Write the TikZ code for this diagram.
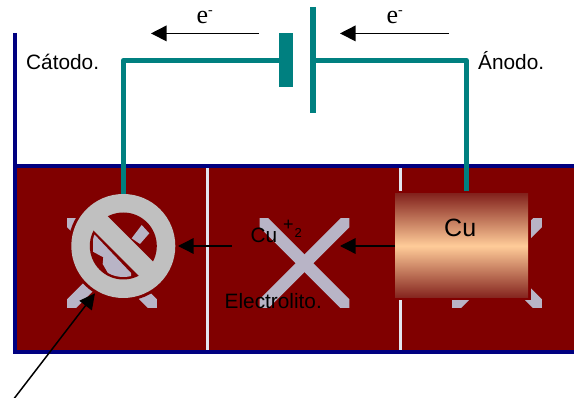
\documentclass[tikz,border=0pt]{standalone}
\usepackage{fontspec}
\setmainfont{Liberation Sans}
\newfontfamily\serifx{Liberation Serif}
\usetikzlibrary{arrows.meta}
\definecolor{tank}{RGB}{128,0,0}
\definecolor{wire}{RGB}{0,128,128}
\definecolor{navy}{RGB}{0,0,128}
\definecolor{crossc}{RGB}{184,180,198}
\definecolor{ban}{RGB}{192,192,192}
\definecolor{copper}{RGB}{255,204,153}
\definecolor{copperedge}{RGB}{132,36,30}
\definecolor{sep}{RGB}{225,230,240}
\tikzset{
 wireline/.style={draw=wire,line width=5pt},
 arr/.style={draw=black,line width=1.5pt,-{Triangle[length=15.5pt,width=15.5pt]}},
 arrs/.style={draw=black,line width=1.3pt,-{Triangle[length=15.5pt,width=15.5pt]}},
 lab/.style={font=\fontsize{20.8}{22}\selectfont,text=black,inner sep=0pt,anchor=base west},
 elec/.style={font=\fontsize{26}{28}\serifx,text=black,inner sep=0pt,anchor=base west},
}
\newcommand{\xmark}[2]{%
 \begin{scope}
 \clip (#1-44.8,#2-44.3) rectangle (#1+44.8,#2+44.3);
 \draw[crossc,line width=12.5pt] (#1-50,#2-50) -- (#1+50,#2+50);
 \draw[crossc,line width=12.5pt] (#1+50,#2-50) -- (#1-50,#2+50);
 \end{scope}}
\begin{document}
\begin{tikzpicture}[x=1pt,y=-1pt]
\useasboundingbox (0,0) rectangle (574,398);
\fill[white] (0,0) rectangle (574,398);
% tank
\fill[tank] (15,166) rectangle (574,352);
\draw[sep,line width=2.5pt] (207.5,168) -- (207.5,350);
\draw[sep,line width=2.5pt] (400.3,168) -- (400.3,350);
% crosses
\xmark{112}{263.3}
\xmark{304.5}{263.3}
\xmark{497}{263.3}
% navy
\draw[navy,line width=4pt] (15.3,33) -- (15.3,352) -- (574,352);
\draw[navy,line width=4pt] (15.3,166.3) -- (574,166.3);
% halo of the sign
\coordinate (bc) at (123.3,246);
\fill[tank] (bc) circle (55);
% wires
\coordinate (wl) at (123.5,60.3);
\coordinate (wr) at (466.5,60.3);
\coordinate (cb) at (123.5,194);
\coordinate (cu) at (466.5,194);
\coordinate (pa) at (285,60.3);
\coordinate (pb) at (313,60.3);
\draw[wireline,line join=round] (cb) -- (wl) -- (pa);
\draw[wireline,line join=round] (cu) -- (wr) -- (pb);
\node[fill=wire,minimum width=13.7pt,minimum height=53.4pt,inner sep=0pt] (neg) at (285.8,60) {};
\coordinate (pt) at (313,7);
\coordinate (pe) at (313,113);
\draw[wireline,line width=5.5pt] (pt) -- (pe);
% arrows top
\coordinate (a1s) at (259,33.4);
\coordinate (a1e) at (151,33.4);
\coordinate (a2s) at (449,33.4);
\coordinate (a2e) at (340,33.4);
\draw[arr] (a1s) -- (a1e);
\draw[arr] (a2s) -- (a2e);
\node[elec] (e1) at (196.5,24) {e\raisebox{9pt}{\fontsize{14}{14}\selectfont -}};
\node[elec] (e2) at (386.5,24) {e\raisebox{9pt}{\fontsize{14}{14}\selectfont -}};
\node[lab] (cat) at (26,70) {Cátodo.};
\node[lab] (ano) at (478,69.7) {Ánodo.};
% ban sign
\fill[ban] (bc) circle (52);
\fill[tank] (bc) circle (33.5);
\begin{scope}
\clip (bc) circle (31);
\fill[crossc] (93,233) -- (131,273) -- (131,280) -- (112,280) -- (102.7,264) -- (103.3,257.3) -- (93,251.7) -- cycle;
\fill[crossc] (131.7,238.3) -- (141.7,225) -- (149.3,233.3) -- (140,244) -- cycle;
\end{scope}
\draw[ban,line width=20pt] (89.3,212) -- (157.3,280);
% copper
\fill[tank] (392,191) rectangle (531,300);
\shade[top color=copperedge,bottom color=copperedge,middle color=copper] (395,194) rectangle (528,297.7);
\node[lab,font=\fontsize{25}{27}\selectfont] (cu2) at (444,236.7) {Cu};
\coordinate (cuedge) at (395,246);
% ions
\node[lab] (ion) at (250.5,243) {Cu};
\node[lab,font=\fontsize{18}{20}\selectfont] (plus) at (283,231) {+};
\node[lab,font=\fontsize{13}{15}\selectfont] (two) at (294.5,238) {2};
\node[lab] (el) at (224.5,309) {Electrolito.};
\coordinate (mid) at (340,246);
\draw[arrs] (cuedge) -- (mid);
\coordinate (is) at (232,246);
\coordinate (ie) at (178,246);
\draw[arrs] (is) -- (ie);
\coordinate (p0) at (13,400);
\coordinate (p1) at (95,293.3);
\draw[arr] (p0) -- (p1);
\end{tikzpicture}
\end{document}
